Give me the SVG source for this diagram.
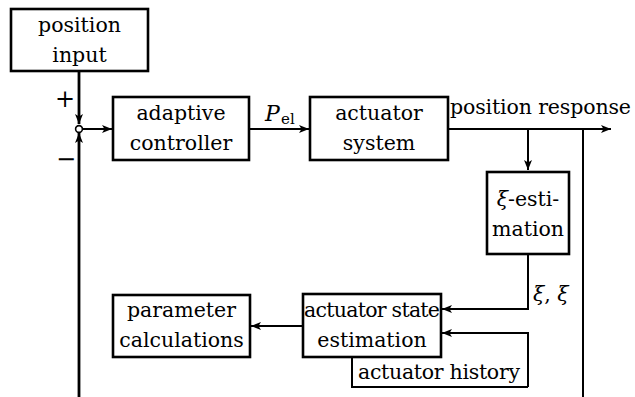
<svg xmlns="http://www.w3.org/2000/svg" width="635" height="397" viewBox="0 0 635 397">
<style>
.box{fill:#fff;stroke:#000;stroke-width:2.6}
.ln{fill:none;stroke:#000;stroke-width:2}
.thick{fill:none;stroke:#000;stroke-width:2.8}
.t{font-family:'DejaVu Serif','Liberation Serif',serif;font-size:20.5px;fill:#000}
.c{text-anchor:middle}
.it{font-style:italic}
</style>
<defs>
<marker id="ah" markerUnits="userSpaceOnUse" markerWidth="14" markerHeight="12" viewBox="-12 -6 14 12" refX="0" refY="0" orient="auto">
<path d="M0,0 L-10,-4 L-7.5,0 L-10,4 Z" fill="#000"/>
</marker>
</defs>
<rect width="635" height="397" fill="#fff"/>
<g id="connectors">
<path class="thick" d="M79,71 V124" marker-end="url(#ah)"/>
<path class="thick" d="M79,397 V133" marker-end="url(#ah)"/>
<path class="ln" d="M82.5,129 H112" marker-end="url(#ah)"/>
<path class="ln" d="M249,129 H309" marker-end="url(#ah)"/>
<path class="ln" d="M448,129 H611" marker-end="url(#ah)"/>
<path class="ln" d="M528,129 V170" marker-end="url(#ah)"/>
<path class="ln" d="M583,129 V397"/>
<path class="ln" d="M528,254 V309 H442" marker-end="url(#ah)"/>
<path class="ln" d="M528,387 V333 H442" marker-end="url(#ah)"/>
<path class="ln" d="M303,326 H251" marker-end="url(#ah)"/>
<circle cx="79" cy="129" r="3.4" fill="#fff" stroke="#000" stroke-width="1.6"/>
<text x="65" y="107" class="t c" style="font-size:24px">+</text>
<text x="66" y="167" class="t c" style="font-size:24px">−</text>
<text x="265" y="121" class="t it" style="font-size:22px">P</text>
<text x="281" y="124" class="t" style="font-size:15px">el</text>
<text x="450" y="114" class="t" textLength="181">position response</text>
<text x="533" y="301" class="t"><tspan class="it">ξ</tspan>, <tspan class="it">ξ</tspan></text>
</g>
<g id="position-input">
<rect class="box" x="11" y="9" width="137" height="62"/>
<text x="79.5" y="32" class="t c">position</text>
<text x="79.5" y="62" class="t c">input</text>
</g>
<g id="adaptive-controller">
<rect class="box" x="113" y="97" width="136" height="63"/>
<text x="181" y="120" class="t c">adaptive</text>
<text x="181" y="150" class="t c">controller</text>
</g>
<g id="actuator-system">
<rect class="box" x="310" y="97" width="138" height="63"/>
<text x="379" y="120" class="t c">actuator</text>
<text x="379" y="150" class="t c">system</text>
</g>
<g id="xi-estimation">
<rect class="box" x="487" y="172" width="82" height="82"/>
<text x="528" y="206" class="t c"><tspan class="it">ξ</tspan>-esti-</text>
<text x="528" y="236" class="t c">mation</text>
</g>
<g id="actuator-state-estimation">
<rect class="box" x="303" y="294" width="138" height="63"/>
<text x="372" y="317" class="t c" textLength="136">actuator state</text>
<text x="372" y="347" class="t c">estimation</text>
</g>
<g id="actuator-history">
<path class="ln" d="M352,357 V387 H528"/>
<text x="439" y="379" class="t c" textLength="162">actuator history</text>
</g>
<g id="parameter-calculations">
<rect class="box" x="113" y="295" width="137" height="62"/>
<text x="181.5" y="317" class="t c">parameter</text>
<text x="181.5" y="347" class="t c">calculations</text>
</g>
</svg>
